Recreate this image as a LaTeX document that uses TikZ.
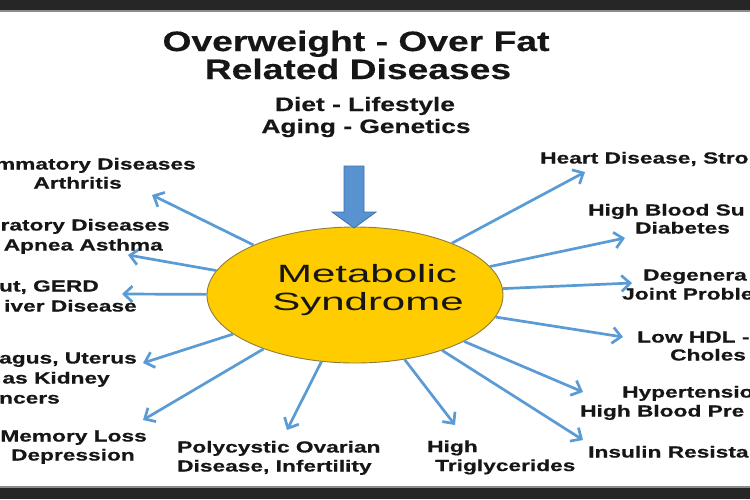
\documentclass[tikz,border=0pt]{standalone}
\usepackage{fontspec}
\usetikzlibrary{arrows.meta,shapes.geometric}
\newfontfamily\titlefont[FakeStretch=1.33,BoldFeatures={FakeBold=0.4}]{Liberation Sans}
\newfontfamily\subfont[FakeStretch=1.35,BoldFeatures={FakeBold=0.4}]{Liberation Sans}
\newfontfamily\msfont[FakeStretch=1.68]{Liberation Sans}
\newfontfamily\lblfont[FakeStretch=1.42,BoldFeatures={FakeBold=0.5}]{Liberation Sans}
\definecolor{arrowblue}{RGB}{91,155,213}
\definecolor{blockblue}{RGB}{88,146,208}
\definecolor{blockedge}{RGB}{65,113,170}
\definecolor{msfill}{RGB}{255,204,0}
\definecolor{msedge}{RGB}{140,125,60}
\definecolor{barcol}{RGB}{38,38,38}
\definecolor{txt}{RGB}{22,22,22}
\begin{document}
\begin{tikzpicture}[x=1pt,y=-1pt,
  lbl/.style={inner sep=0pt,text=txt,font=\lblfont\bfseries\fontsize{16}{19}\selectfont},
  ttl/.style={inner sep=0pt,text=txt,font=\titlefont\bfseries\fontsize{28}{24}\selectfont},
  sub/.style={inner sep=0pt,text=txt,font=\subfont\bfseries\fontsize{19.5}{22}\selectfont},
  mst/.style={inner sep=0pt,text=txt,font=\msfont\fontsize{25}{28}\selectfont},
  conn/.style={draw=arrowblue,line width=2.7pt,-{Straight Barb[length=8.5pt,width=16pt]}}]
\useasboundingbox (0,0) rectangle (750,499);
\clip (0,0) rectangle (750,499);
\fill[white] (0,0) rectangle (750,499);
\fill[barcol] (0,0) rectangle (750,10);
\fill[black!45] (0,10) rectangle (750,11.5);
\fill[black!45] (0,486) rectangle (750,488);
\fill[barcol] (0,488) rectangle (750,499);

% title
\node[ttl,anchor=base] (t1) at (356,51) {Overweight - Over Fat};
\node[ttl,anchor=base] (t2) at (358,79) {Related Diseases};
\node[sub,anchor=base] (s1) at (365,111) {Diet - Lifestyle};
\node[sub,anchor=base] (s2) at (366,133) {Aging - Genetics};

% tips
\coordinate (a1) at (152,195);
\coordinate (a2) at (128,255);
\coordinate (a3) at (122,294);
\coordinate (a4) at (143,363);
\coordinate (a5) at (143,420);
\coordinate (a6) at (287,430);
\coordinate (a7) at (455,425);
\coordinate (a8) at (583,440);
\coordinate (a9) at (583,392);
\coordinate (a10) at (623,337);
\coordinate (a11) at (632,283);
\coordinate (a12) at (625,238);
\coordinate (a13) at (585,172);

\node[ellipse,minimum width=296pt,minimum height=136pt,inner sep=0pt,
  fill=msfill,draw=msedge,line width=0.9pt] (ms) at (355,295) {};

\foreach \i in {1,...,13} \draw[conn] (ms) -- (a\i);

% block arrow
\filldraw[fill=blockblue,draw=blockedge,line width=0.8pt]
  (344,166) -- (364,166) -- (364,212) -- (376,212) -- (354,228) -- (332,212) -- (344,212) -- cycle;

\node[mst,anchor=base] (m1) at (367,282) {Metabolic};
\node[mst,anchor=base] (m2) at (368,310) {Syndrome};

% left labels
\node[lbl,anchor=base east] (l1a) at (196,169.5) {mmatory Diseases};
\node[lbl,anchor=base east] (l1b) at (122,188.5) {Arthritis};
\node[lbl,anchor=base east] (l2a) at (170,230.5) {ratory Diseases};
\node[lbl,anchor=base east] (l2b) at (163,250.5) {Apnea Asthma};
\node[lbl,anchor=base east] (l3a) at (99,291.5) {ut, GERD};
\node[lbl,anchor=base east] (l3b) at (137,311.5) {iver Disease};
\node[lbl,anchor=base east] (l4a) at (137,363.5) {agus, Uterus};
\node[lbl,anchor=base east] (l4b) at (110,383.5) {as Kidney};
\node[lbl,anchor=base east] (l4c) at (60,403.5) {ncers};
\node[lbl,anchor=base east] (l5a) at (147,441.5) {Memory Loss};
\node[lbl,anchor=base east] (l5b) at (135,460.5) {Depression};
% bottom labels
\node[lbl,anchor=base west] (b1a) at (177,452.5) {Polycystic Ovarian};
\node[lbl,anchor=base west] (b1b) at (177,471.5) {Disease, Infertility};
\node[lbl,anchor=base west] (b2a) at (427,452) {High};
\node[lbl,anchor=base west] (b2b) at (435,471) {Triglycerides};
% right labels
\node[lbl,anchor=base west] (r1) at (540,163.5) {Heart Disease, Stro};
\node[lbl,anchor=base west] (r2a) at (588,215.5) {High Blood Su};
\node[lbl,anchor=base west] (r2b) at (635,233.5) {Diabetes};
\node[lbl,anchor=base west] (r3a) at (643,280.5) {Degenera};
\node[lbl,anchor=base west] (r3b) at (622,299.5) {Joint Proble};
\node[lbl,anchor=base west] (r4a) at (637,342.5) {Low HDL -};
\node[lbl,anchor=base west] (r4b) at (670,360.5) {Choles};
\node[lbl,anchor=base west] (r5a) at (622,397.5) {Hypertensio};
\node[lbl,anchor=base west] (r5b) at (580,416.5) {High Blood Pre};
\node[lbl,anchor=base west] (r6) at (588,457.5) {Insulin Resista};
\end{tikzpicture}
\end{document}
